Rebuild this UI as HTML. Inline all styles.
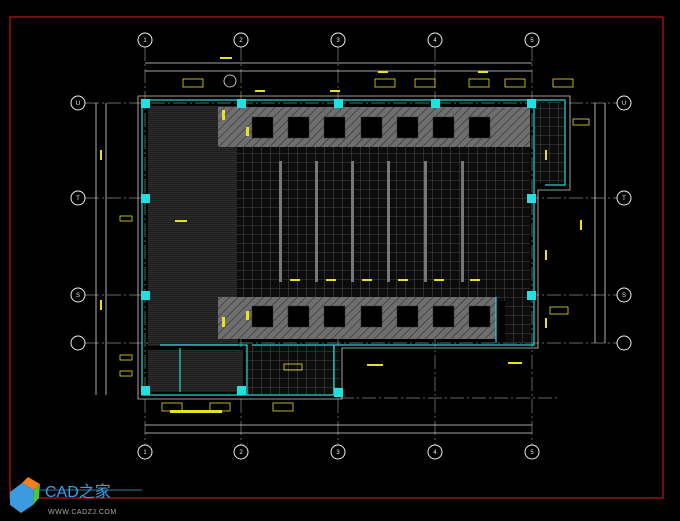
<!DOCTYPE html>
<html><head><meta charset="utf-8"><style>
html,body{margin:0;padding:0;background:#000;width:680px;height:521px;overflow:hidden}
svg{display:block}
text{font-family:"Liberation Sans",sans-serif}
</style></head><body>
<svg width="680" height="521" viewBox="0 0 680 521" xmlns="http://www.w3.org/2000/svg">
<defs>
<pattern id="grid" width="9" height="9" patternUnits="userSpaceOnUse"><rect width="9" height="9" fill="#0c0c0c"/><path d="M0 0H9M0 0V9" stroke="#777" stroke-width="0.6"/></pattern>
<pattern id="hatch" width="6" height="6" patternUnits="userSpaceOnUse" patternTransform="rotate(45)"><rect width="6" height="6" fill="#6e6e6e"/><path d="M0 0V6" stroke="#3a3a3a" stroke-width="1.5"/></pattern>
<pattern id="lines" width="3" height="2" patternUnits="userSpaceOnUse"><rect width="3" height="2" fill="#1c1c1c"/><path d="M0 0H3" stroke="#4a4a4a" stroke-width="0.7"/></pattern>
</defs>
<rect width="680" height="521" fill="#000"/>
<rect x="10" y="17" width="653" height="481" fill="none" stroke="#c01818" stroke-width="1.2"/>
<g stroke="#888" stroke-width="0.7" stroke-dasharray="14 3 2 3">
<line x1="145" y1="47" x2="145" y2="445"/><line x1="241" y1="47" x2="241" y2="445"/><line x1="338" y1="47" x2="338" y2="445"/><line x1="435" y1="47" x2="435" y2="445"/><line x1="532" y1="47" x2="532" y2="445"/>
<line x1="85" y1="103" x2="617" y2="103"/><line x1="85" y1="198" x2="617" y2="198"/><line x1="85" y1="295" x2="617" y2="295"/><line x1="85" y1="343" x2="617" y2="343"/>
<line x1="340" y1="398" x2="560" y2="398"/>
</g>
<g stroke="#ddd" stroke-width="0.8">
<line x1="145" y1="63" x2="532" y2="63"/><line x1="145" y1="71" x2="532" y2="71"/>
<line x1="145" y1="425" x2="532" y2="425"/><line x1="145" y1="433" x2="532" y2="433"/>
<line x1="96" y1="103" x2="96" y2="395"/><line x1="106" y1="103" x2="106" y2="395"/>
<line x1="595" y1="103" x2="595" y2="343"/><line x1="605" y1="103" x2="605" y2="343"/>
</g>
<g fill="#000" stroke="#eee" stroke-width="1">
<circle cx="145" cy="40" r="7"/><circle cx="241" cy="40" r="7"/><circle cx="338" cy="40" r="7"/><circle cx="435" cy="40" r="7"/><circle cx="532" cy="40" r="7"/>
<circle cx="145" cy="452" r="7"/><circle cx="241" cy="452" r="7"/><circle cx="338" cy="452" r="7"/><circle cx="435" cy="452" r="7"/><circle cx="532" cy="452" r="7"/>
<circle cx="78" cy="103" r="7"/><circle cx="78" cy="198" r="7"/><circle cx="78" cy="295" r="7"/><circle cx="78" cy="343" r="7"/>
<circle cx="624" cy="103" r="7"/><circle cx="624" cy="198" r="7"/><circle cx="624" cy="295" r="7"/><circle cx="624" cy="343" r="7"/>
</g>
<g fill="#eee" font-size="6" text-anchor="middle">
<text x="145" y="42">1</text><text x="241" y="42">2</text><text x="338" y="42">3</text><text x="435" y="42">4</text><text x="532" y="42">5</text>
<text x="145" y="454">1</text><text x="241" y="454">2</text><text x="338" y="454">3</text><text x="435" y="454">4</text><text x="532" y="454">5</text>
<text x="78" y="105">U</text><text x="78" y="200">T</text><text x="78" y="297">S</text><text x="624" y="105">U</text><text x="624" y="200">T</text><text x="624" y="297">S</text>
</g>
<polygon points="138,96 570,96 570,190 538,190 538,348 342,348 342,399 138,399" fill="none" stroke="#ccc" stroke-width="0.8"/>
<rect x="148" y="106" width="90" height="240" fill="url(#lines)"/>
<rect x="148" y="350" width="95" height="42" fill="url(#lines)"/>
<rect x="237" y="146" width="293" height="155" fill="url(#grid)"/>
<rect x="245" y="345" width="95" height="50" fill="url(#grid)"/>
<rect x="218" y="107" width="312" height="40" fill="url(#hatch)"/>
<rect x="218" y="297" width="278" height="42" fill="url(#hatch)"/>
<rect x="505" y="295" width="26" height="48" fill="url(#grid)"/>
<rect x="535" y="103" width="30" height="80" fill="url(#grid)"/>
<g fill="#000" stroke="#333" stroke-width="0.5">
<rect x="252" y="117" width="21" height="21"/><rect x="288" y="117" width="21" height="21"/><rect x="324" y="117" width="21" height="21"/><rect x="361" y="117" width="21" height="21"/><rect x="397" y="117" width="21" height="21"/><rect x="433" y="117" width="21" height="21"/><rect x="469" y="117" width="21" height="21"/>
<rect x="252" y="306" width="21" height="21"/><rect x="288" y="306" width="21" height="21"/><rect x="324" y="306" width="21" height="21"/><rect x="361" y="306" width="21" height="21"/><rect x="397" y="306" width="21" height="21"/><rect x="433" y="306" width="21" height="21"/><rect x="469" y="306" width="21" height="21"/>
</g>
<g fill="#777"><rect x="279" y="161" width="3" height="121"/><rect x="315" y="161" width="3" height="121"/><rect x="351" y="161" width="3" height="121"/><rect x="387" y="161" width="3" height="121"/><rect x="424" y="161" width="3" height="121"/><rect x="461" y="161" width="3" height="121"/></g>
<g fill="none" stroke="#2ad4d4" stroke-width="1.2">
<polyline points="336,395 142,395 142,100 534,100 534,345 252,345"/>
<polyline points="160,345 247,345 247,395"/><line x1="496" y1="343" x2="496" y2="297"/>
<line x1="180" y1="348" x2="180" y2="392"/>
<polyline points="534,100 565,100 565,185 545,185"/>
<line x1="334" y1="345" x2="334" y2="395"/>
</g>
<g fill="#22e0e0">
<rect x="141" y="99" width="9" height="9"/><rect x="237" y="99" width="9" height="9"/><rect x="334" y="99" width="9" height="9"/><rect x="431" y="99" width="9" height="9"/><rect x="527" y="99" width="9" height="9"/>
<rect x="141" y="194" width="9" height="9"/><rect x="527" y="194" width="9" height="9"/><rect x="141" y="291" width="9" height="9"/><rect x="527" y="291" width="9" height="9"/>
<rect x="141" y="386" width="9" height="9"/><rect x="237" y="386" width="9" height="9"/><rect x="334" y="388" width="9" height="9"/>
</g>
<g fill="none" stroke="#e8e020" stroke-width="0.8">
<rect x="183" y="79" width="20" height="8"/><rect x="375" y="79" width="20" height="8"/><rect x="415" y="79" width="20" height="8"/><rect x="469" y="79" width="20" height="8"/><rect x="505" y="79" width="20" height="8"/><rect x="553" y="79" width="20" height="8"/>
<rect x="573" y="119" width="16" height="6"/><rect x="550" y="307" width="18" height="7"/><rect x="284" y="364" width="18" height="6"/>
<rect x="162" y="403" width="20" height="8"/><rect x="210" y="403" width="20" height="8"/><rect x="273" y="403" width="20" height="8"/>
<rect x="120" y="355" width="12" height="5"/><rect x="120" y="371" width="12" height="5"/><rect x="120" y="216" width="12" height="5"/>
</g>
<g fill="#e8e020">
<rect x="255" y="90" width="10" height="2"/><rect x="330" y="90" width="10" height="2"/><rect x="378" y="71" width="10" height="2"/><rect x="478" y="71" width="10" height="2"/><rect x="220" y="57" width="12" height="2"/>
<rect x="545" y="150" width="2" height="10"/><rect x="580" y="220" width="2" height="10"/><rect x="545" y="250" width="2" height="10"/><rect x="545" y="318" width="2" height="10"/>
<rect x="100" y="150" width="2" height="10"/><rect x="100" y="300" width="2" height="10"/>
<rect x="222" y="110" width="3" height="10"/><rect x="246" y="127" width="3" height="9"/><rect x="222" y="317" width="3" height="10"/><rect x="246" y="311" width="3" height="9"/>
<rect x="290" y="279" width="10" height="2"/><rect x="326" y="279" width="10" height="2"/><rect x="362" y="279" width="10" height="2"/><rect x="398" y="279" width="10" height="2"/><rect x="434" y="279" width="10" height="2"/><rect x="470" y="279" width="10" height="2"/>
<rect x="367" y="364" width="16" height="2"/><rect x="508" y="362" width="14" height="2"/><rect x="175" y="220" width="12" height="2"/>
<rect x="170" y="410" width="52" height="3"/>
</g>
<circle cx="230" cy="81" r="6" fill="none" stroke="#eee" stroke-width="0.8"/>
<g>
<polygon points="10,492 22,483 34,490 33,505 21,513 10,505" fill="#3c9be0"/>
<polygon points="22,483 34,490 40,484 28,477" fill="#f08020"/>
<polygon points="34,490 40,484 39,498 33,505" fill="#50c040"/>
<text x="45" y="497" font-size="16" fill="#3a9ee8">CAD之家</text>
<text x="48" y="514" font-size="7" fill="#aaa" letter-spacing="0.5">WWW.CADZJ.COM</text>
<line x1="40" y1="490" x2="142" y2="490" stroke="#3ad" stroke-width="0.8"/>
</g>
</svg>
</body></html>
